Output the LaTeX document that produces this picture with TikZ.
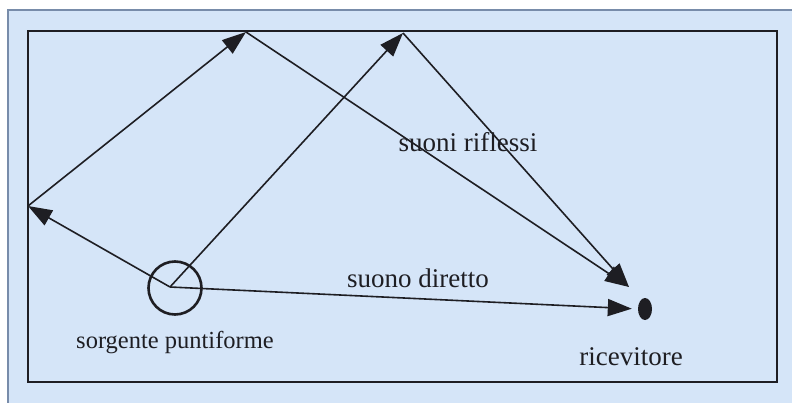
\documentclass[tikz,border=0pt]{standalone}
\usepackage{fontspec}
\setmainfont{Liberation Serif}
\usetikzlibrary{arrows.meta,shapes.geometric}

\definecolor{panelfill}{RGB}{213,229,248}
\definecolor{panelrule}{RGB}{120,140,170}
\definecolor{ink}{RGB}{30,30,35}

\tikzset{
  ray/.style={draw=ink, line width=1.6pt, -{Triangle[length=24pt,width=17pt]}},
  lbl/.style={text=ink, font=\fontsize{27}{30}\selectfont, inner sep=0pt},
}

\begin{document}
\begin{tikzpicture}[x=1pt,y=-1pt]
  \useasboundingbox (0,0) rectangle (792,403);
  \fill[white] (0,0) rectangle (792,403);

  % page panel and the room outline
  \draw[panelrule, line width=1.2pt, fill=panelfill] (8,10) rectangle (796,408);
  \draw[ink, line width=2.2pt] (28,31) rectangle (777,382);

  % source and receiver
  \coordinate (o) at (170,287);
  \node[circle, draw=ink, line width=2.6pt, minimum size=53pt, inner sep=0pt] (src) at (175,288) {};
  \node[ellipse, fill=ink, minimum width=14pt, minimum height=22pt, inner sep=0pt] (rcv) at (645,309) {};

  % reflection points on the walls
  \coordinate (w1) at (28,206);
  \coordinate (t1) at (246,32);
  \coordinate (t2) at (403,33);
  \coordinate (hit) at (629,287);

  % reflected paths
  \draw[ray] (o) -- (w1);
  \draw[ray] (w1) -- (t1);
  \draw[ray] (t1) -- (hit);
  \draw[ray] (o) -- (t2);
  \draw[ray] (t2) -- (hit);

  % direct path
  \draw[ray, shorten >=6pt] (o) -- (rcv.west);

  % labels
  \node[lbl] (lr) at (468,142) {suoni riflessi};
  \node[lbl] (ld) at (418,278) {suono diretto};
  \node[lbl, font=\fontsize{24.5}{28}\selectfont] (ls) at (175,343) {sorgente puntiforme};
  \node[lbl] (lc) at (631,357) {ricevitore};
\end{tikzpicture}
\end{document}
